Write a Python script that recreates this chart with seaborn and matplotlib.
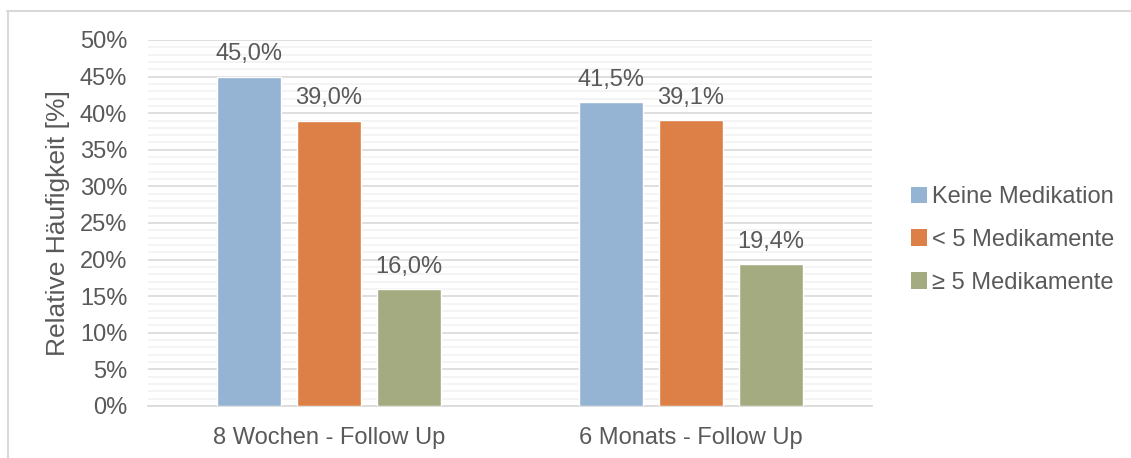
import matplotlib
matplotlib.use("Agg")
import matplotlib.pyplot as plt
import seaborn as sns
import pandas as pd
from matplotlib.ticker import MultipleLocator, PercentFormatter
from matplotlib.lines import Line2D
from matplotlib.patches import Patch

categories = ["8 Wochen - Follow Up", "6 Monats - Follow Up"]
series = ["Keine Medikation", "< 5 Medikamente", "\u2265 5 Medikamente"]
keine = [45.0, 41.5]
unter5 = [39.0, 39.1]
ab5 = [16.0, 19.4]
colors = ["#95b3d2", "#dd8047", "#a5ab81"]

df = pd.DataFrame({
    "Zeitpunkt": categories * 3,
    "Gruppe": [series[0]] * 2 + [series[1]] * 2 + [series[2]] * 2,
    "Wert": keine + unter5 + ab5,
})

sns.set_theme(style="white")
plt.rcParams["font.family"] = ["Liberation Sans", "DejaVu Sans"]
text_color = "#595959"

fig = plt.figure(figsize=(11.31, 4.58), dpi=100)
ax = fig.add_axes([148 / 1131, 1 - 406 / 458, 724 / 1131, 366 / 458])

sns.barplot(data=df, x="Zeitpunkt", y="Wert", hue="Gruppe", order=categories,
            hue_order=series, palette=colors, width=0.663, gap=0.21,
            saturation=1, errorbar=None, ax=ax, zorder=3, legend=False)

ax.set_ylim(0, 50)
ax.set_xlim(-0.5, 1.5)
ax.yaxis.set_major_locator(MultipleLocator(5))
ax.yaxis.set_minor_locator(MultipleLocator(1))
ax.yaxis.set_major_formatter(PercentFormatter(decimals=0))
ax.grid(which="minor", axis="y", color="#f2f2f2", linewidth=1.2, zorder=0)
ax.grid(which="major", axis="y", color="#d9d9d9", linewidth=1.2, zorder=1)
ax.set_axisbelow(True)
for s in ["top", "right", "left"]:
    ax.spines[s].set_visible(False)
ax.spines["bottom"].set_color("#d9d9d9")
ax.spines["bottom"].set_linewidth(1.2)
ax.tick_params(axis="both", which="both", length=0, labelsize=17, colors=text_color)
ax.tick_params(axis="y", pad=15)
ax.tick_params(axis="x", pad=15)
ax.set_xlabel("")
ax.set_ylabel("Relative H\u00e4ufigkeit [%]", fontsize=19, color=text_color)
ax.yaxis.set_label_coords(-(148 - 70) / 724, 0.5)

for cont in ax.containers:
    for bar in cont:
        h = bar.get_height()
        ax.annotate(f"{h:.1f}%".replace(".", ","),
                    (bar.get_x() + bar.get_width() / 2, h),
                    xytext=(0, 8), textcoords="offset points",
                    ha="center", va="bottom", fontsize=17, color=text_color)

handles = [Patch(facecolor=c, edgecolor="none") for c in colors]
fig.legend(handles, series, loc="center left", bbox_to_anchor=(899 / 1131, 1 - 240 / 458),
           frameon=False, fontsize=17, labelcolor=text_color, handlelength=0.7,
           handleheight=0.7, handletextpad=0.2, labelspacing=0.88, borderpad=0)

# chart frame
fig.add_artist(Line2D([7 / 1131, 1.0], [1 - 10.5 / 458] * 2, transform=fig.transFigure,
                      color="#d9d9d9", linewidth=1.5))
fig.add_artist(Line2D([7.5 / 1131] * 2, [0.0, 1 - 10.5 / 458], transform=fig.transFigure,
                      color="#d9d9d9", linewidth=1.5))

fig.savefig("out.png", dpi=100)
